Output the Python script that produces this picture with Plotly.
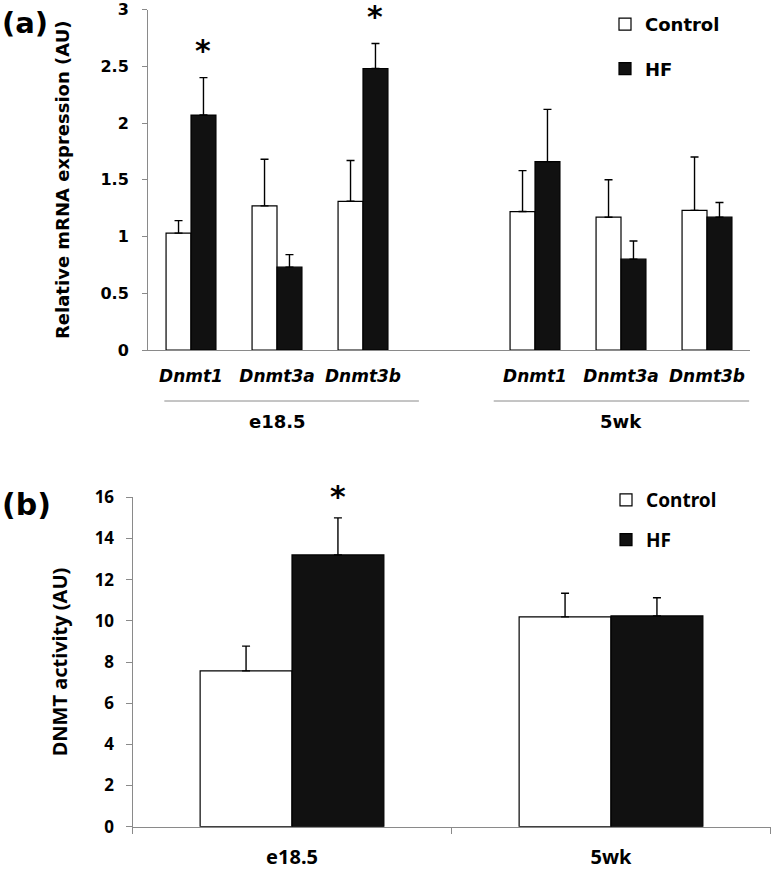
import plotly.graph_objects as go

# ---------------- data ----------------
genes = ["Dnmt1", "Dnmt3a", "Dnmt3b"]
stages = ["e18.5", "5wk"]
groups = ["Control", "HF"]

# panel (a): relative mRNA expression, order: e18.5 genes, then 5wk genes
mrna_control = [1.03, 1.27, 1.31, 1.22, 1.17, 1.23]
mrna_control_err = [0.11, 0.41, 0.36, 0.36, 0.33, 0.47]
mrna_hf = [2.07, 0.73, 2.48, 1.66, 0.80, 1.17]
mrna_hf_err = [0.33, 0.11, 0.22, 0.46, 0.16, 0.13]
mrna_hf_sig = [True, False, True, False, False, False]

# panel (b): DNMT activity
act_control = [7.57, 10.19]
act_control_err = [1.20, 1.15]
act_hf = [13.2, 10.24]
act_hf_err = [1.80, 0.88]
act_hf_sig = [True, False]

mrna_yticks = [0, 0.5, 1, 1.5, 2, 2.5, 3]
act_yticks = [0, 2, 4, 6, 8, 10, 12, 14, 16]

# ---------------- helpers ----------------
W, H = 772, 870
px = lambda v: v / W
py = lambda v: 1 - v / H

FA = "DejaVu Sans"
FB = "Noto Sans"
DARK = "#111111"
AXC = "#8a8a8a"

# categorical slots with one empty slot between stages
positions = [s * (len(genes) + 1) + g for s in range(len(stages)) for g in range(len(genes))]
gene_ticktext = [f"<i>{g}</i>" for _ in stages for g in genes]

BARGAP_A = 0.42
BARGAP_B = 0.424

fig = go.Figure()

def err(arr):
    return dict(type="data", array=arr, arrayminus=[0] * len(arr), symmetric=False,
                color="black", thickness=1.4, width=4)

# panel (a)
fig.add_trace(go.Bar(x=positions, y=mrna_control, name=groups[0], xaxis="x", yaxis="y",
                     marker=dict(color="white", line=dict(color="black", width=1.2)),
                     error_y=err(mrna_control_err), legend="legend", legendgroup="c"))
fig.add_trace(go.Bar(x=positions, y=mrna_hf, name=groups[1], xaxis="x", yaxis="y",
                     marker=dict(color=DARK, line=dict(color="black", width=1.2)),
                     error_y=err(mrna_hf_err), legend="legend", legendgroup="h"))
# panel (b)
wb = (1 - BARGAP_B) / 2
fig.add_trace(go.Bar(x=stages, y=act_control, name=groups[0], xaxis="x2", yaxis="y2",
                     width=wb, offset=-wb,
                     marker=dict(color="white", line=dict(color="black", width=1.2)),
                     error_y=err(act_control_err), legend="legend2", legendgroup="c"))
fig.add_trace(go.Bar(x=stages, y=act_hf, name=groups[1], xaxis="x2", yaxis="y2",
                     width=wb, offset=0,
                     marker=dict(color=DARK, line=dict(color="black", width=1.2)),
                     error_y=err(act_hf_err), legend="legend2", legendgroup="h"))

annotations = []
# significance stars
off_a = (1 - BARGAP_A) / 4
for p, v, e, s in zip(positions, mrna_hf, mrna_hf_err, mrna_hf_sig):
    if s:
        annotations.append(dict(x=p + off_a, y=v + e, xref="x", yref="y", text="*",
                                showarrow=False, yanchor="bottom", yshift=8,
                                font=dict(family=FA, size=30, color="black", weight="bold")))
for i, (v, e, s) in enumerate(zip(act_hf, act_hf_err, act_hf_sig)):
    if s:
        annotations.append(dict(x=i + wb / 2, y=v + e, xref="x2", yref="y2", text="*",
                                showarrow=False, yanchor="bottom", yshift=2,
                                font=dict(family=FA, size=30, color="black", weight="bold")))

# stage labels under panel (a)
n = len(genes)
shapes = []
for si, st in enumerate(stages):
    grp = positions[si * n:(si + 1) * n]
    center = sum(grp) / n
    annotations.append(dict(x=center, y=py(421.7), xref="x", yref="paper", text=st,
                            showarrow=False, yanchor="middle",
                            font=dict(family=FA, size=18, color="black", weight="bold")))
bracket = [(-0.31, 2.65), (3.52, 6.49)]
for x0, x1 in bracket:
    shapes.append(dict(type="line", xref="x", yref="paper", x0=x0, x1=x1,
                       y0=py(401), y1=py(401), line=dict(color=AXC, width=1)))

# panel labels
annotations.append(dict(x=0, y=py(23), xref="paper", yref="paper", text="(a)", showarrow=False,
                        xanchor="left", yanchor="middle",
                        font=dict(family=FA, size=29, color="black", weight="bold")))
annotations.append(dict(x=0, y=py(504), xref="paper", yref="paper", text="(b)", showarrow=False,
                        xanchor="left", yanchor="middle",
                        font=dict(family=FA, size=30, color="black", weight="bold")))

fig.update_layout(
    width=W, height=H, margin=dict(l=0, r=0, t=0, b=0, autoexpand=False),
    paper_bgcolor="white", plot_bgcolor="white",
    barmode="group", bargap=BARGAP_A, bargroupgap=0,
    showlegend=True,
    xaxis=dict(domain=[px(148), px(750)], anchor="y", range=[-0.5, 6.5], automargin=False,
               tickvals=positions, ticktext=gene_ticktext, ticks="", ticklabelstandoff=11,
               showline=True, linecolor=AXC, linewidth=1, showgrid=False, zeroline=False,
               tickfont=dict(family=FA, size=17, color="black", weight="bold")),
    yaxis=dict(domain=[py(350), py(9.5)], anchor="x", range=[0, 3], tickvals=mrna_yticks,
               automargin=False,
               ticks="outside", ticklen=5, tickcolor=AXC, ticklabelstandoff=10,
               showline=True, linecolor=AXC, linewidth=1, showgrid=False, zeroline=False,
               tickfont=dict(family=FA, size=16, color="black", weight="bold"),
               title=dict(text="Relative mRNA expression (AU)", standoff=26,
                          font=dict(family=FA, size=18, color="black", weight="bold"))),
    xaxis2=dict(domain=[px(132.5), px(770.5)], anchor="y2", type="category", automargin=False,
                tickson="boundaries", ticks="outside", ticklen=6, tickcolor=AXC,
                ticklabelstandoff=12,
                showline=True, linecolor=AXC, linewidth=1, showgrid=False, zeroline=False,
                tickfont=dict(family=FB, size=20, color="black", weight="bold")),
    yaxis2=dict(domain=[py(826.7), py(497.3)], anchor="x2", range=[0, 16], tickvals=act_yticks,
                automargin=False,
                ticks="outside", ticklen=6, tickcolor=AXC, ticklabelstandoff=8,
                showline=True, linecolor=AXC, linewidth=1, showgrid=False, zeroline=False,
                tickfont=dict(family=FB, size=17, color="black", weight="bold"),
                title=dict(text="DNMT activity (AU)", standoff=21,
                           font=dict(family=FB, size=20, color="black", weight="bold"))),
    legend=dict(x=px(605), y=py(6), xanchor="left", yanchor="top", tracegroupgap=18,
                bgcolor="rgba(0,0,0,0)", font=dict(family=FA, size=18, color="black", weight="bold")),
    legend2=dict(x=px(606), y=py(481), xanchor="left", yanchor="top", tracegroupgap=12,
                 bgcolor="rgba(0,0,0,0)", font=dict(family=FB, size=19, color="black", weight="bold")),
    annotations=annotations, shapes=shapes,
)

fig.write_html("out.html", config={"displayModeBar": False},
               post_script="document.body.style.margin='0';")
